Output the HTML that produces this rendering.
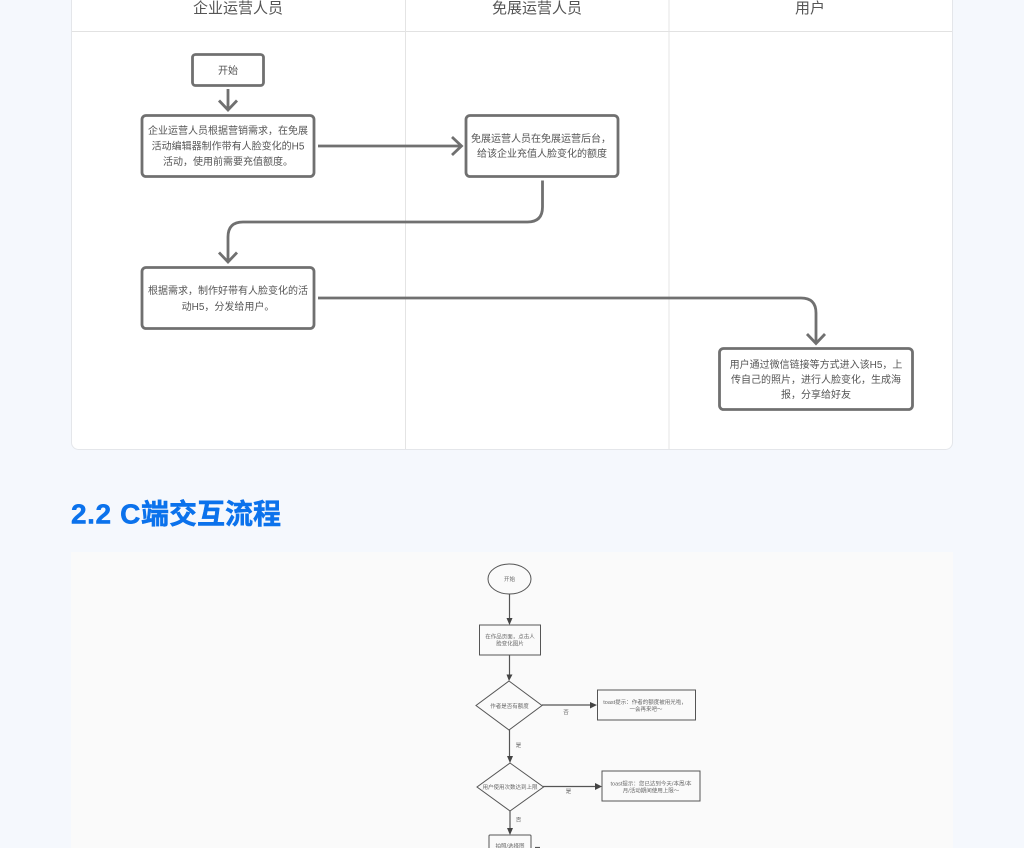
<!DOCTYPE html>
<html lang="zh">
<head>
<meta charset="utf-8">
<title>C端交互流程</title>
<style>
html,body{margin:0;padding:0;width:1024px;height:848px;overflow:hidden;background:#f5f8fd}
svg{display:block;position:absolute;left:0;top:0}
text{font-family:"Liberation Sans","Noto Sans CJK SC",sans-serif;text-anchor:middle}
.h{font-size:15px;fill:#555}
.t{font-size:10px;fill:#555}
.n{fill:#fff;stroke:#707070;stroke-width:2.8}
.c{fill:none;stroke:#707070;stroke-width:2.8}
.s{font-size:5.5px;fill:#666}
.b{fill:#fafafa;stroke:#555;stroke-width:1}
.l{fill:none;stroke:#555;stroke-width:1.2}
.a{fill:#444}
</style>
</head>
<body>
<svg width="1024" height="848" viewBox="0 0 1024 848" xmlns="http://www.w3.org/2000/svg">
<rect x="71.5" y="-20" width="881" height="469.5" rx="7" fill="#fff" stroke="#e4e6ea"/>
<path d="M72 31.5H952" stroke="#e2e2e2" fill="none"/>
<path d="M405.500 0V449M669 0V449" stroke="#e4e4e4" fill="none"/>
<text class="h" x="238" y="13">企业运营人员</text>
<text class="h" x="537" y="13">免展运营人员</text>
<text class="h" x="810" y="13">用户</text>

<rect class="n" x="192.500" y="54.500" width="71" height="31" rx="3"/>
<text class="t" x="228" y="74">开始</text>
<path class="c" d="M228 89V110M219 100.500L228 110L237 100.500"/>

<rect class="n" x="142" y="115.500" width="172" height="61" rx="4"/>
<text class="t" x="228" y="134">企业运营人员根据营销需求，在免展</text>
<text class="t" x="228" y="149.500">活动编辑器制作带有人脸变化的H5</text>
<text class="t" x="228" y="165">活动，使用前需要充值额度。</text>

<path class="c" d="M318 146H461M452 137L461.500 146L452 155"/>

<rect class="n" x="466" y="115.500" width="152" height="61" rx="4"/>
<text class="t" x="541" y="142">免展运营人员在免展运营后台，</text>
<text class="t" x="542" y="157">给该企业充值人脸变化的额度</text>

<path class="c" d="M542.500 180.500V207Q542.500 222 527.500 222H243Q228 222 228 237V262M219 252.500L228 262L237 252.500"/>

<rect class="n" x="142" y="267.500" width="172" height="61" rx="4"/>
<text class="t" x="228" y="294">根据需求，制作好带有人脸变化的活</text>
<text class="t" x="228" y="310">动H5，分发给用户。</text>

<path class="c" d="M318 298H801Q816 298 816 313V343M807 334L816 343.500L825 334"/>

<rect class="n" x="719.500" y="348.500" width="193" height="61" rx="4"/>
<text class="t" x="816" y="368">用户通过微信链接等方式进入该H5，上</text>
<text class="t" x="816" y="383">传自己的照片，进行人脸变化，生成海</text>
<text class="t" x="816" y="398">报，分享给好友</text>

<text x="71" y="523.500" style="text-anchor:start;font-size:28px;font-weight:700;fill:#0b72ec;stroke:#0b72ec;stroke-width:.5"><tspan letter-spacing=".6">2.2 C</tspan>端交互流程</text>

<rect x="71" y="552" width="882" height="296" fill="#fafafa"/>

<ellipse class="b" cx="509.500" cy="579" rx="21.500" ry="15"/>
<text class="s" x="509.500" y="581">开始</text>
<path class="l" d="M509.500 594V619"/>
<path class="a" d="M506.500 618H512.500L509.500 625Z"/>

<rect class="b" x="479.500" y="625" width="61" height="30"/>
<text class="s" x="510" y="638.500">在作品页面，点击人</text>
<text class="s" x="510" y="645.500">脸变化图片</text>
<path class="l" d="M509.500 655V675"/>
<path class="a" d="M506.500 674.500H512.500L509 681Z"/>

<path class="b" d="M509 681L542 705.500L509 730L476 705.500Z"/>
<text class="s" x="509.500" y="708">作者是否有额度</text>
<path class="l" d="M542 705H591"/>
<path class="a" d="M590 702V708.500L597 705Z"/>
<text class="s" x="566" y="714">否</text>

<rect class="b" x="597.500" y="690" width="98" height="30"/>
<text class="s" x="645" y="704">toast提示：作者的额度被用光啦，</text>
<text class="s" x="646" y="711">一会再来吧～</text>

<path class="l" d="M509.500 730V757"/>
<path class="a" d="M507 756H513L510 763Z"/>
<text class="s" x="518.500" y="747">是</text>

<path class="b" d="M510 763L543.500 787L510 811L477 787Z"/>
<text class="s" x="510" y="789">用户使用次数达到上限</text>
<path class="l" d="M543 786.500H596"/>
<path class="a" d="M595 783V790L602 786.500Z"/>
<text class="s" x="568.500" y="793">是</text>

<rect class="b" x="602" y="771" width="98" height="30"/>
<text class="s" x="651" y="785.500">toast提示：您已达到今天/本周/本</text>
<text class="s" x="651" y="792.500">月/活动期间使用上限～</text>

<path class="l" d="M510 811V829"/>
<path class="a" d="M507 828H513L510 835Z"/>
<text class="s" x="518.500" y="821.500">否</text>

<rect class="b" x="489" y="835" width="42" height="30" rx="1"/>
<text class="s" x="510" y="848">拍照/选择图</text>
<path class="l" d="M535 847.500H540"/>
</svg>
</body>
</html>
